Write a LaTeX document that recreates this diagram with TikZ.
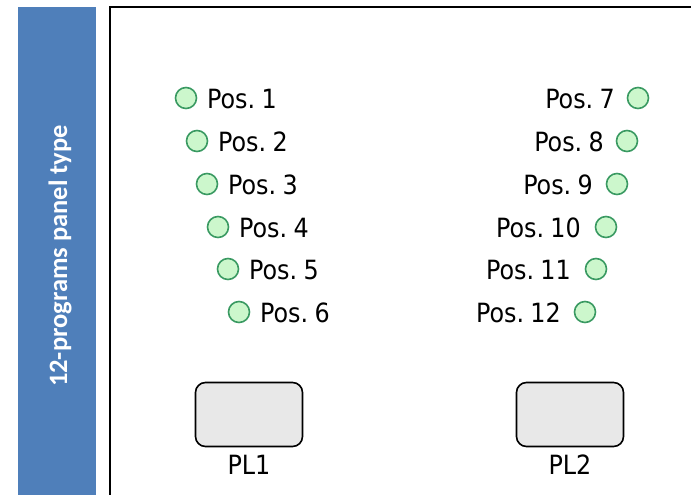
\documentclass[tikz,border=0pt]{standalone}
\usepackage{fontspec}
\setmainfont{DejaVu Sans Condensed}
\newfontfamily\barfont{Carlito}
\definecolor{barblue}{HTML}{4F7FBA}
\definecolor{ledfill}{HTML}{CCF7CC}
\definecolor{ledline}{HTML}{3A9A62}
\definecolor{plfill}{HTML}{E8E8E8}
\tikzset{
  led/.style={circle,draw=ledline,fill=ledfill,line width=1.6pt,minimum size=21pt,inner sep=0pt},
  postext/.style={inner sep=0pt,font=\fontsize{26.5}{30}\selectfont},
  plbox/.style={rounded corners=10pt,draw=black,fill=plfill,line width=1.6pt,minimum width=107pt,minimum height=64pt,inner sep=0pt},
  bartext/.style={rotate=90,text=white,font=\barfont\bfseries\fontsize{26.5}{30}\selectfont,inner sep=0pt}
}
\newcommand{\possp}{\hspace{0.24em}}
\begin{document}
\begin{tikzpicture}[x=1pt,y=-1pt]
\useasboundingbox (0,0) rectangle (691,495);
\fill[barblue] (18,7) rectangle (96,495);
\node[bartext] (bar) at (60,256) {12-programs panel type};
\draw[line width=1.8pt] (110,496) -- (110,7) -- (692,7);
% left column
\foreach \i/\cx/\tx/\y in {1/186/207/98, 2/197/218/141, 3/207/228/184, 4/218/239/227, 5/228/249/269, 6/239/260/312}{
  \node[led] (c\i) at (\cx,\y) {};
  \node[postext,anchor=west] (t\i) at (\tx,\y+1) {Pos.\possp\i};
}
% right column
\foreach \i/\cx/\tx/\y in {7/638/615/98, 8/627/604/141, 9/617/593/184, 10/606/581/227, 11/596/571/269, 12/585/561/312}{
  \node[led] (c\i) at (\cx,\y) {};
  \node[postext,anchor=east] (t\i) at (\tx,\y+1) {Pos.\possp\i};
}
\node[plbox] (pl1) at (249,414.5) {};
\node[plbox] (pl2) at (570,414.5) {};
\node[postext] (l1) at (249,465) {PL1};
\node[postext] (l2) at (570,465) {PL2};
\end{tikzpicture}
\end{document}
